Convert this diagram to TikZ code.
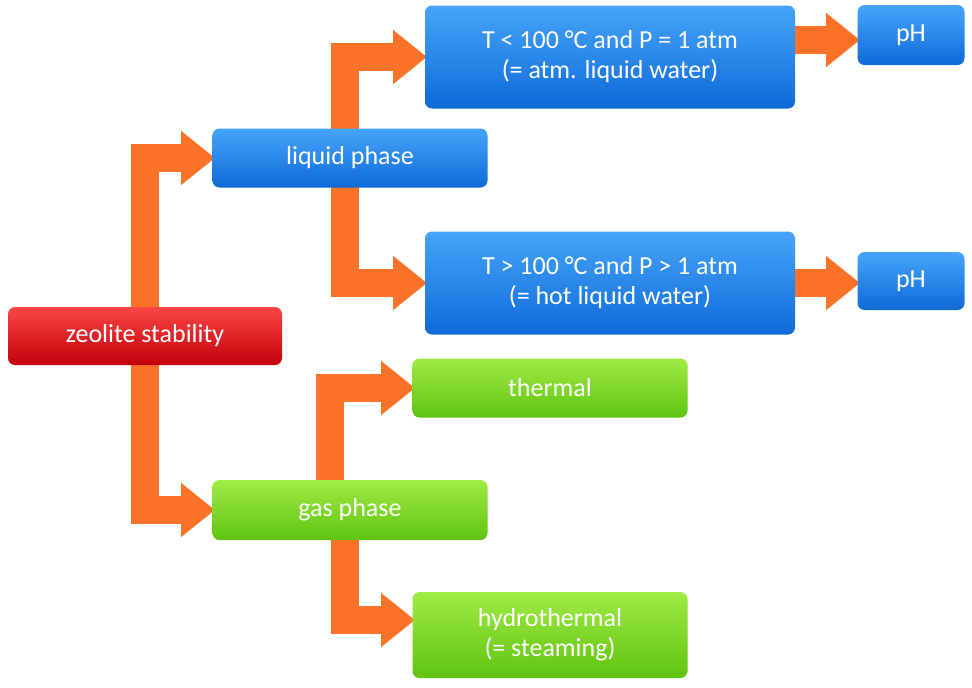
\documentclass[tikz,border=0pt]{standalone}
\usepackage{fontspec}
\setmainfont{Carlito}
\usetikzlibrary{arrows.meta}
\definecolor{arr}{RGB}{250,115,40}
\definecolor{bT}{RGB}{70,165,250}\definecolor{bB}{RGB}{15,105,215}
\definecolor{gT}{RGB}{160,235,70}\definecolor{gB}{RGB}{95,195,15}
\definecolor{rT}{RGB}{250,70,70}\definecolor{rB}{RGB}{195,0,10}
\begin{document}
\begin{tikzpicture}[x=1pt,y=-1pt,
 box/.style={rounded corners=7pt,text=white,font=\fontsize{26}{30}\selectfont,align=center,draw=none},
 blue/.style={box,top color=bT,bottom color=bB},
 green/.style={box,top color=gT,bottom color=gB},
 red/.style={box,top color=rT,bottom color=rB},
 ar/.style={draw=arr,line width=28pt,-{Triangle[width=52pt,length=34pt]}}]
\useasboundingbox (0,0) rectangle (972,688);
\path[fill=white] (0,0) rectangle (972,688);
% node placeholders
\coordinate (zs) at (145,336);
\coordinate (lp) at (350,158);
\coordinate (gp) at (350,510);
\coordinate (t1) at (610,57);
\coordinate (t2) at (610,283);
\coordinate (p1) at (911,35);
\coordinate (p2) at (911,281);
\coordinate (th) at (550,388);
\coordinate (hy) at (550,635);
% arrows
\draw[ar] (zs) -- (145,158) -- (215,158);
\draw[ar] (zs) -- (145,510) -- (215,510);
\draw[ar] (lp) ++(-5,0) -- (345,57) -- (427,57);
\draw[ar] (lp) ++(-5,0) -- (345,283) -- (427,283);
\draw[ar] (t1) ++(180,-17) -- (860,40);
\draw[ar] (t2) ++(180,0) -- (860,283);
\draw[ar] (gp) ++(-20,0) -- (330,388) -- (415,388);
\draw[ar] (gp) ++(-5,0) -- (345,620) -- (415,620);
% boxes
\node[red,minimum width=274pt,minimum height=58pt] (zsn) at (zs) {zeolite stability};
\node[blue,minimum width=275pt,minimum height=59pt] (lpn) at (lp) {liquid phase};
\node[green,minimum width=275pt,minimum height=60pt] (gpn) at (gp) {gas phase};
\node[blue,minimum width=370pt,minimum height=103pt] (t1n) at (t1) {T < 100 °C and P = 1 atm\\(= atm. liquid water)};
\node[blue,minimum width=370pt,minimum height=103pt] (t2n) at (t2) {T > 100 °C and P > 1 atm\\(= hot liquid water)};
\node[blue,minimum width=107pt,minimum height=60pt] (p1n) at (p1) {pH};
\node[blue,minimum width=107pt,minimum height=58pt] (p2n) at (p2) {pH};
\node[green,minimum width=275pt,minimum height=59pt] (thn) at (th) {thermal};
\node[green,minimum width=275pt,minimum height=86pt] (hyn) at (hy) {hydrothermal\\(= steaming)};
\end{tikzpicture}
\end{document}
